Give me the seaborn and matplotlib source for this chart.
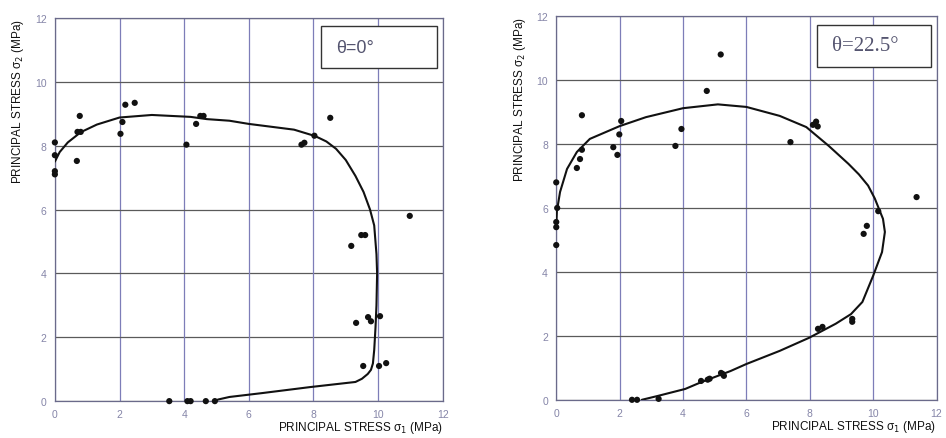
import matplotlib
matplotlib.use("Agg")
import matplotlib.pyplot as plt
import matplotlib.patches as mpatches
import pandas as pd
import seaborn as sns

# measured points, theta = 0 deg
pts0_s1 = [0.0, 0.0, 0.0, 0.0, 0.77, 0.7, 0.8, 0.68, 2.03, 2.09, 2.18, 2.47,
           4.07, 4.37, 4.5, 4.6, 8.52, 8.03, 7.63, 7.72, 10.98, 9.17, 9.48, 9.6,
           9.32, 9.69, 9.78, 10.06, 9.54, 10.03, 10.25, 3.54, 4.1, 4.2, 4.67, 4.95]
pts0_s2 = [8.1, 7.7, 7.2, 7.1, 8.93, 8.43, 8.43, 7.52, 8.37, 8.74, 9.28, 9.34,
           8.03, 8.68, 8.93, 8.93, 8.87, 8.31, 8.03, 8.09, 5.8, 4.86, 5.2, 5.2,
           2.45, 2.63, 2.5, 2.66, 1.1, 1.1, 1.19, 0.0, 0.0, 0.0, 0.0, 0.0]

# fitted envelope, theta = 0 deg
fit0_s1 = [0.0, 0.15, 0.4, 0.8, 1.3, 2.0, 3.0, 4.2, 4.7, 5.4, 6.0, 7.4, 8.05,
           8.4, 8.7, 9.0, 9.3, 9.55, 9.75, 9.88, 9.95, 9.97, 9.95, 9.92, 9.88,
           9.84, 9.78, 9.68, 9.5, 9.3, 8.6, 7.9, 6.4, 5.4, 5.05, 4.95]
fit0_s2 = [7.5, 7.8, 8.1, 8.42, 8.66, 8.88, 8.96, 8.9, 8.83, 8.78, 8.68, 8.5,
           8.3, 8.13, 7.9, 7.55, 7.05, 6.55, 6.0, 5.5, 4.6, 4.0, 3.0, 2.3, 1.6,
           1.18, 0.98, 0.85, 0.7, 0.6, 0.52, 0.44, 0.25, 0.13, 0.05, 0.0]

# measured points, theta = 22.5 deg
pts22_s1 = [0.0, 0.03, 0.81, 0.65, 0.75, 0.81, 1.8, 1.93, 1.99, 2.05, 3.76,
            3.95, 4.75, 5.19, 7.39, 8.1, 8.2, 8.25, 11.37, 10.16, 9.8, 9.7,
            9.34, 9.34, 8.26, 8.4, 5.25, 5.2, 5.29, 4.84, 4.57, 0.0, 0.0, 0.0,
            2.39, 2.55, 3.23, 4.78]
pts22_s2 = [6.8, 6.0, 8.9, 7.25, 7.53, 7.82, 7.9, 7.66, 8.3, 8.72, 7.94,
            8.47, 9.66, 10.8, 8.06, 8.6, 8.7, 8.55, 6.34, 5.9, 5.44, 5.19,
            2.44, 2.53, 2.22, 2.28, 0.81, 0.84, 0.75, 0.66, 0.59, 5.56, 5.4, 4.84,
            0.0, 0.0, 0.03, 0.63]

# fitted envelope, theta = 22.5 deg
fit22_s1 = [2.7, 3.2, 4.07, 4.57, 5.5, 6.0, 7.05, 7.98, 8.82, 9.3, 9.66, 10.0,
            10.28, 10.37, 10.31, 10.22, 10.05, 9.84, 9.55, 9.22, 8.6, 7.89, 7.05,
            6.0, 5.1, 4.0, 2.83, 2.0, 1.06, 0.65, 0.34, 0.12, 0.02, 0.0]
fit22_s2 = [0.0, 0.12, 0.34, 0.55, 0.9, 1.12, 1.53, 1.94, 2.38, 2.68, 3.06, 3.88,
            4.62, 5.25, 5.66, 5.88, 6.3, 6.7, 7.05, 7.38, 7.94, 8.53, 8.88,
            9.16, 9.24, 9.12, 8.84, 8.56, 8.16, 7.75, 7.22, 6.5, 5.9, 5.4]

ticks = [0, 2, 4, 6, 8, 10, 12]

sns.set_style('white')
plt.rcParams['font.family'] = ['Liberation Sans', 'DejaVu Sans']

fig = plt.figure(figsize=(9.46, 4.39), dpi=100)
ax0 = fig.add_axes([0.058, 0.084, 0.410, 0.873])
ax1 = fig.add_axes([0.588, 0.087, 0.402, 0.874])

panels = [
    (ax0, pts0_s1, pts0_s2, fit0_s1, fit0_s2, "θ=0°", 'Liberation Sans', 13),
    (ax1, pts22_s1, pts22_s2, fit22_s1, fit22_s2, "θ=22.5°", 'Liberation Serif', 15),
]

for ax, px, py, fx, fy, label, fam, fsz in panels:
    pts = pd.DataFrame({'s1': px, 's2': py})
    fit = pd.DataFrame({'s1': fx, 's2': fy})
    sns.lineplot(data=fit, x='s1', y='s2', sort=False, estimator=None,
                 color='#111111', lw=1.5, ax=ax, zorder=3)
    sns.scatterplot(data=pts, x='s1', y='s2', color='#111111', s=20,
                    edgecolor='none', ax=ax, zorder=4, clip_on=False)
    ax.set_xlim(0, 12)
    ax.set_ylim(0, 12)
    ax.set_xticks(ticks)
    ax.set_yticks(ticks)
    ax.set_xticklabels(ticks)
    ax.set_yticklabels(ticks)
    ax.tick_params(length=0, labelsize=7.5, labelcolor='#8585a8', pad=6)
    ax.grid(False)
    for t in ticks:
        ax.axvline(t, color='#7d7db8', lw=0.9, zorder=1)
        ax.axhline(t, color='#5a5a5a', lw=0.9, zorder=1)
    for sp in ax.spines.values():
        sp.set_color('#6a6a8a')
        sp.set_linewidth(0.9)
    ax.set_xlabel("PRINCIPAL STRESS σ$_1$ (MPa)", loc='right', fontsize=8.5,
                  color='#111111', labelpad=0)
    ax.set_ylabel("PRINCIPAL STRESS σ$_2$ (MPa)", loc='top', fontsize=8.5,
                  color='#111111', labelpad=6)
    ax.add_patch(mpatches.Rectangle((0.686, 0.868), 0.299, 0.110,
                                    transform=ax.transAxes, fill=True,
                                    facecolor='white', edgecolor='#333333',
                                    lw=1.0, zorder=5))
    ax.text(0.726, 0.923, label, transform=ax.transAxes, ha='left', va='center',
            fontsize=fsz, family=[fam, 'DejaVu Sans'], color='#555570', zorder=6)

fig.savefig('out.png', dpi=100)
